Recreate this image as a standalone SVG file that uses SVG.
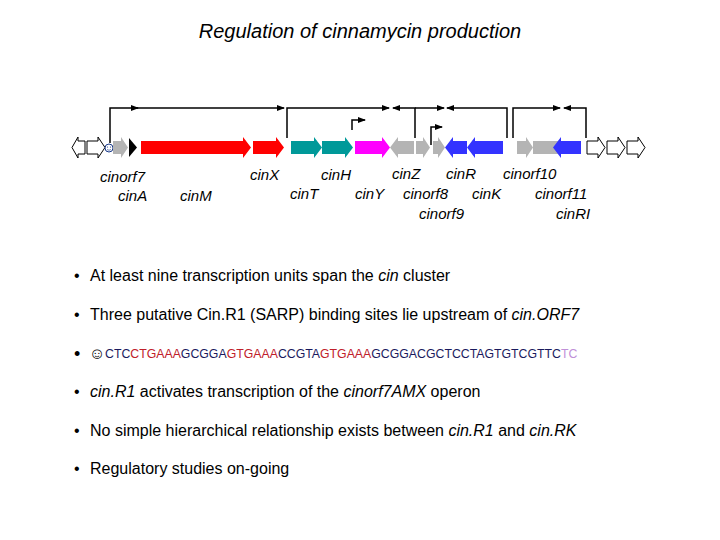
<svg xmlns="http://www.w3.org/2000/svg" width="720" height="540" viewBox="0 0 720 540">
<style>
text{font-family:"Liberation Sans",Arial,sans-serif}
.lb{font-size:15px;font-style:italic}
.bt{font-size:16px}
.ln{fill:none;stroke:#000;stroke-width:1.5}
.op{fill:#fff;stroke:#000;stroke-width:1}
.nv{fill:#1a1a5e}.rd{fill:#c0202a}
</style>
<defs>
<marker id="ah" markerWidth="8" markerHeight="8" refX="7" refY="4" orient="auto" markerUnits="userSpaceOnUse"><path d="M0,1L8,4L0,7Z" fill="#000"/></marker>
</defs>
<rect width="720" height="540" fill="#fff"/>
<text x="360" y="38" text-anchor="middle" font-size="20" font-style="italic">Regulation of cinnamycin production</text>
<g id="genes">
<path class="op" d="M85,141H78V137L72,147.5L78,158V154H85Z"/>
<path class="op" d="M87,141H98V137L105,147.5L98,158V154H87Z"/>
<g id="smiley"><circle cx="109" cy="148" r="4" fill="#fff" stroke="#1a3a8a"/><circle cx="107.5" cy="147" r="0.6" fill="#1a3a8a"/><circle cx="110.5" cy="147" r="0.6" fill="#1a3a8a"/><path d="M107,149.5Q109,151 111,149.5" fill="none" stroke="#1a3a8a" stroke-width="0.6"/></g>
<path fill="#b4b4b4" d="M113,141H121V137L128,147.5L121,158V154H113Z"/>
<path fill="#000" d="M129,138L137,147.5L129,157Z"/>
<path fill="#f00" d="M141,141H243V137L251,147.5L243,158V154H141Z"/>
<path fill="#f00" d="M253,141H276V137L284,147.5L276,158V154H253Z"/>
<path fill="#099" d="M291,141H314V137L322,147.5L314,158V154H291Z"/>
<path fill="#099" d="M322,141H345V137L353,147.5L345,158V154H322Z"/>
<path fill="#f0f" d="M355,141H382V137L390,147.5L382,158V154H355Z"/>
<path fill="#b4b4b4" d="M414,141H398V137L390,147.5L398,158V154H414Z"/>
<path fill="#b4b4b4" d="M416,141H423V137L430,147.5L423,158V154H416Z"/>
<path fill="#b4b4b4" d="M433,141H438V137L445,147.5L438,158V154H433Z"/>
<path fill="#33f" d="M467,141H453V137L445,147.5L453,158V154H467Z"/>
<path fill="#33f" d="M503,141H475V137L467,147.5L475,158V154H503Z"/>
<path fill="#b4b4b4" d="M517,141H526V137L533,147.5L526,158V154H517Z"/>
<rect x="533" y="141" width="27" height="13" fill="#b4b4b4"/>
<path fill="#33f" d="M581,141H561V137L553,147.5L561,158V154H581Z"/>
<path class="op" d="M587,141H598V137L605,147.5L598,158V154H587Z"/>
<path class="op" d="M607,141H618V137L625,147.5L618,158V154H607Z"/>
<path class="op" d="M627,141H638V137L645,147.5L638,158V154H627Z"/>
</g>
<g id="connectors">
<path class="ln" d="M110,143V108H138" marker-end="url(#ah)"/>
<path class="ln" d="M136,108H284" marker-end="url(#ah)"/>
<path class="ln" d="M287,138V108H389" marker-end="url(#ah)"/>
<path class="ln" d="M415,138V108H393" marker-end="url(#ah)"/>
<path class="ln" d="M415,108H444" marker-end="url(#ah)"/>
<path class="ln" d="M507,138V108H447" marker-end="url(#ah)"/>
<path class="ln" d="M513,138V108H560" marker-end="url(#ah)"/>
<path class="ln" d="M586,138V108H564" marker-end="url(#ah)"/>
<path class="ln" d="M352,130V120H365" marker-end="url(#ah)"/>
<path class="ln" d="M431,145V127H442" marker-end="url(#ah)"/>
</g>
<g id="labels">
<text class="lb" x="100" y="182">cinorf7</text>
<text class="lb" x="118" y="201">cinA</text>
<text class="lb" x="180" y="201">cinM</text>
<text class="lb" x="250" y="180">cinX</text>
<text class="lb" x="321" y="180">cinH</text>
<text class="lb" x="290" y="199">cinT</text>
<text class="lb" x="355" y="199">cinY</text>
<text class="lb" x="392" y="179">cinZ</text>
<text class="lb" x="403" y="199">cinorf8</text>
<text class="lb" x="419" y="219">cinorf9</text>
<text class="lb" x="446" y="179">cinR</text>
<text class="lb" x="472" y="199">cinK</text>
<text class="lb" x="503" y="179">cinorf10</text>
<text class="lb" x="535" y="199">cinorf11</text>
<text class="lb" x="556" y="219">cinRI</text>
</g>
<g id="bullets">
<text class="bt" x="74" y="281">•</text><text class="bt" x="90" y="281">At least nine transcription units span the <tspan font-style="italic">cin</tspan> cluster</text>
<text class="bt" x="74" y="320">•</text><text class="bt" x="90" y="320">Three putative Cin.R1 (SARP) binding sites lie upstream of <tspan font-style="italic">cin.ORF7</tspan></text>
<text x="74" y="360" font-size="18">•</text><text class="bt" x="89" y="359">☺</text>
<text x="105" y="358" font-size="12.3"><tspan class="nv">CTC</tspan><tspan class="rd">CTGAAA</tspan><tspan class="nv">GCGGA</tspan><tspan class="rd">GTGAAA</tspan><tspan class="nv">CCGTA</tspan><tspan class="rd">GTGAAA</tspan><tspan class="nv">GCGGACGCTCCTAGTGTCGTTC</tspan><tspan fill="#c090d8">TC</tspan></text>
<text class="bt" x="74" y="397">•</text><text class="bt" x="90" y="397"><tspan font-style="italic">cin.R1</tspan> activates transcription of the <tspan font-style="italic">cinorf7AMX</tspan> operon</text>
<text class="bt" x="74" y="436">•</text><text class="bt" x="90" y="436">No simple hierarchical relationship exists between <tspan font-style="italic">cin.R1</tspan> and <tspan font-style="italic">cin.RK</tspan></text>
<text class="bt" x="74" y="474">•</text><text class="bt" x="90" y="474">Regulatory studies on-going</text>
</g>
</svg>
